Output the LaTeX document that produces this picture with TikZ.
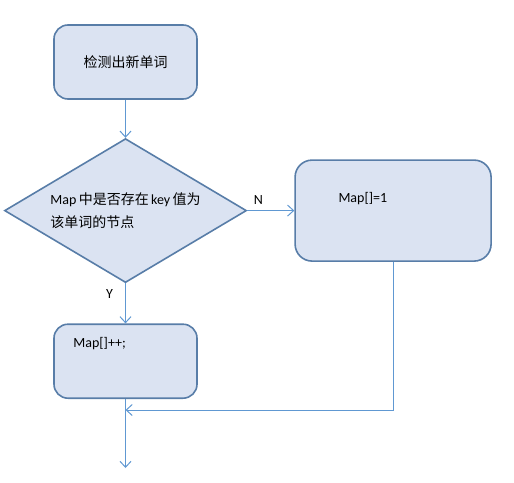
\documentclass[tikz,border=0pt]{standalone}
\usepackage{fontspec}
\setmainfont{Carlito}
\newfontfamily\cjk{Noto Sans CJK SC}
\usetikzlibrary{arrows.meta,positioning,shapes.geometric}
\definecolor{boxfill}{RGB}{219,227,242}
\definecolor{boxline}{RGB}{88,125,168}
\definecolor{flowline}{RGB}{96,152,210}

\begin{document}
\begin{tikzpicture}[
    x=1pt, y=-1pt,
    node distance=38pt and 47pt,
    font=\fontsize{14}{23}\selectfont,
    process/.style={rectangle, rounded corners=14pt, draw=boxline, fill=boxfill, line width=1.6pt, minimum width=143pt, minimum height=74pt, align=center},
    decision/.style={diamond, draw=boxline, fill=boxfill, line width=1.6pt, minimum width=242pt, minimum height=144pt, aspect=1.68, inner sep=0pt, align=left},
    txt/.style={inner sep=0pt, anchor=west},
    arrow/.style={-{Straight Barb[length=6pt,width=11pt]}, flowline, line width=1pt}
  ]
    \useasboundingbox (0,0) rectangle (514,482);
    \node[process] (detect) at (125.5,62) {\cjk 检测出新单词};
    \node[decision, below=of detect] (check) {Map\,{\cjk 中是否存在}\,key\,{\cjk 值为}\\{\cjk 该单词的节点}};
    \node[process, right=of check, minimum width=196pt, minimum height=101pt, rounded corners=17pt] (setone) {};
    \node[process, below=40pt of check] (incr) {};
    \node[txt] (setonetext) at ([xshift=44pt,yshift=-39pt]setone.north west) {Map[]=1};
    \node[txt] (incrtext) at ([xshift=20pt,yshift=-20pt]incr.north west) {Map[]++;};
    \node (ylabel) at ([xshift=-16pt,yshift=-11pt]check.south) {Y};
    \node (nlabel) at ([xshift=11pt,yshift=11pt]check.east) {N};
    \coordinate (join) at ([yshift=-11pt]incr.south);
    \coordinate (out) at ([yshift=-69pt]incr.south);
    \draw[arrow] (detect) -- (check);
    \draw[arrow] (check) -- (setone);
    \draw[arrow] (check) -- (incr);
    \draw[arrow] (setone.south) |- (join);
    \draw[arrow] (incr) -- (out);
  \end{tikzpicture}
\end{document}
